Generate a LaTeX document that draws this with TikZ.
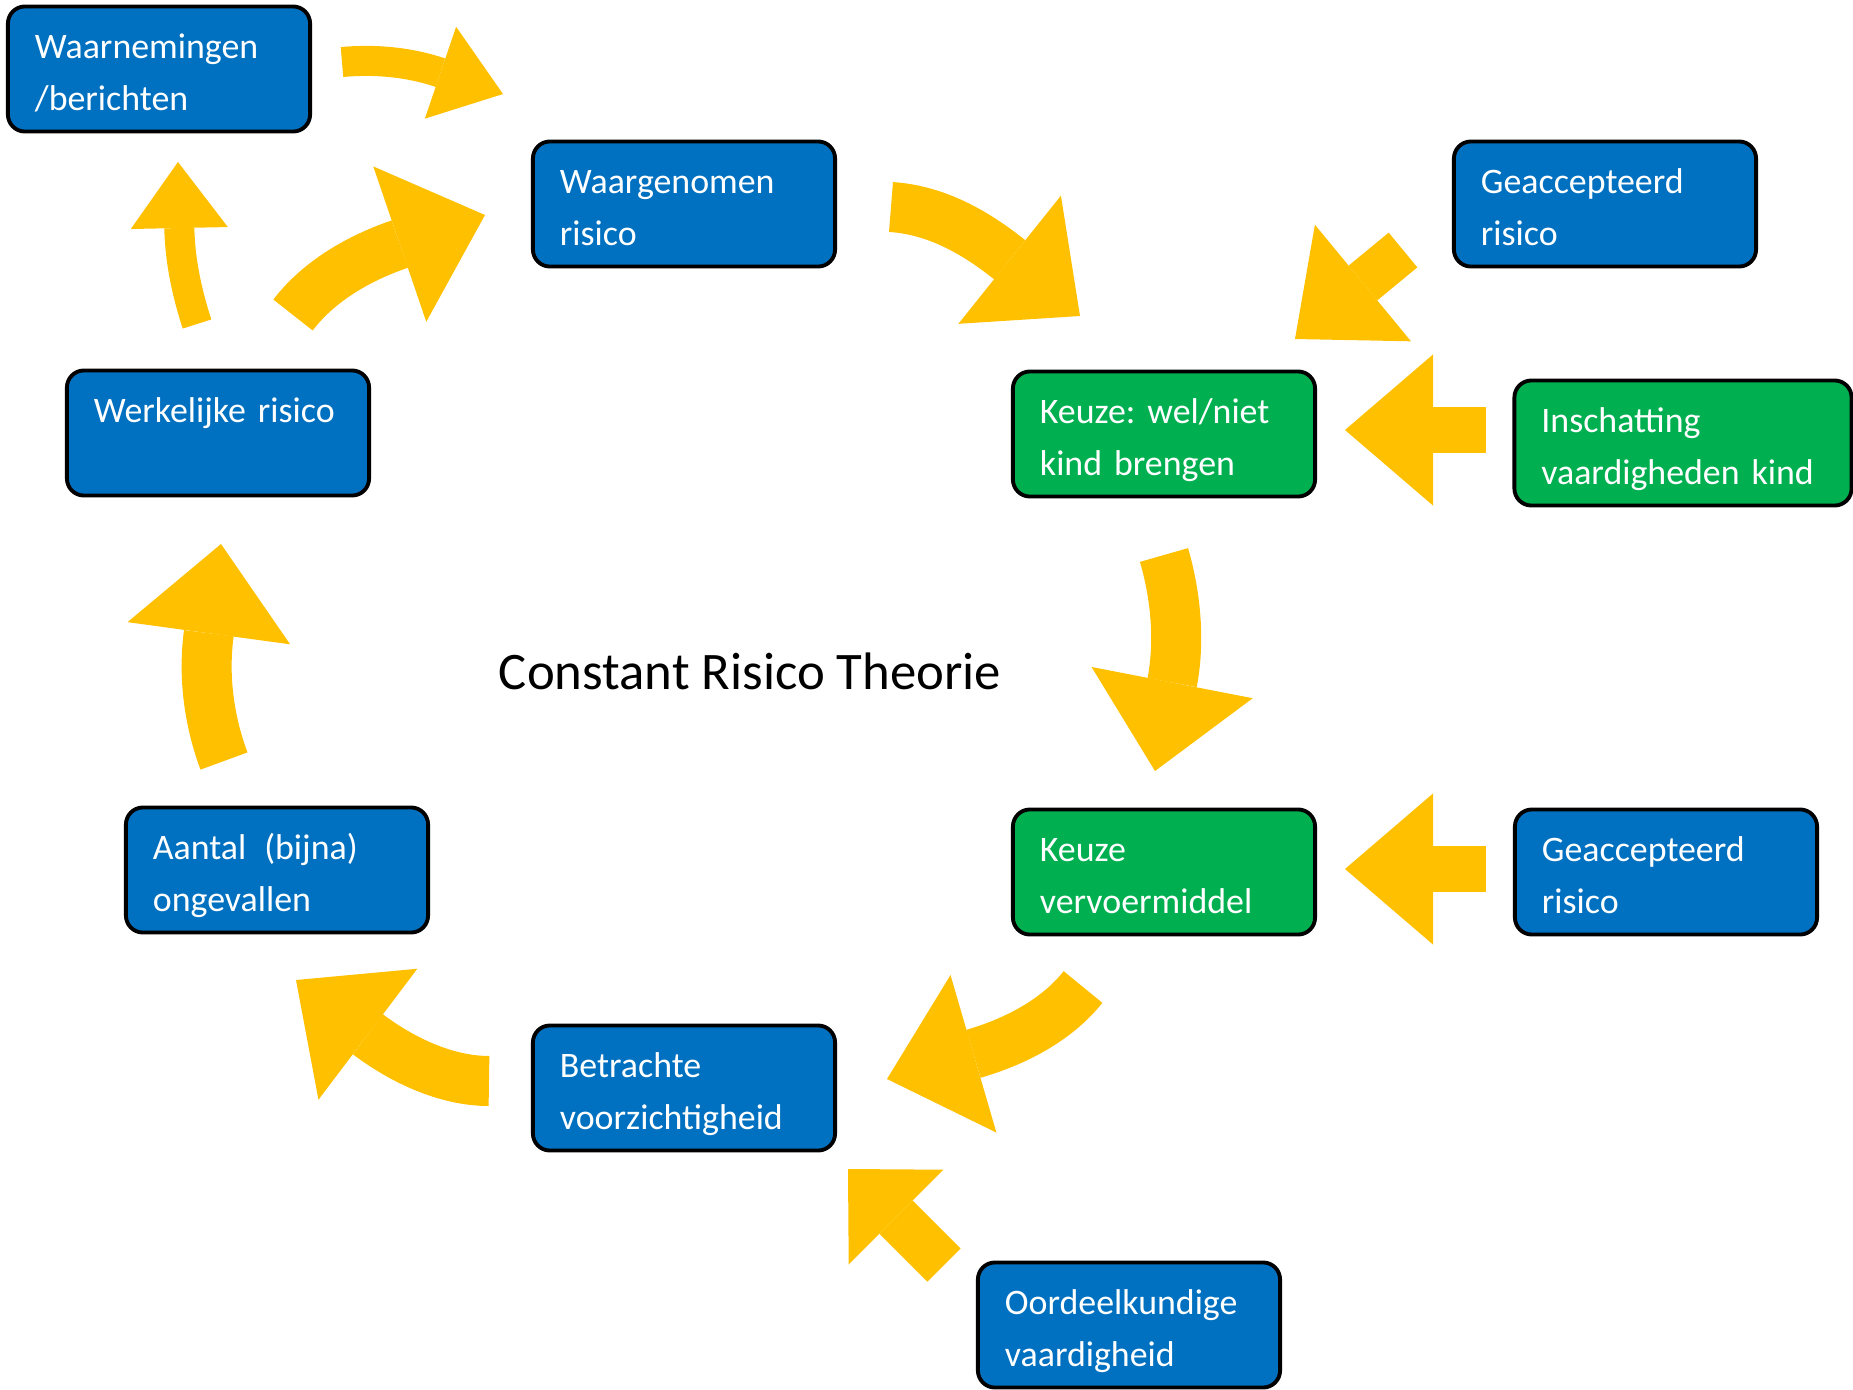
\documentclass[tikz,border=0pt]{standalone}
\usepackage{fontspec}
\setmainfont{Carlito}
\usepackage{xcolor}
\usepackage{tikz}
\usetikzlibrary{arrows.meta}
\definecolor{crtblue}{RGB}{0,112,192}
\definecolor{crtgreen}{RGB}{0,176,80}
\definecolor{crtyellow}{RGB}{255,192,0}
\tikzstyle{bbox} = [rectangle, rounded corners=0.17cm, minimum width=3.02cm, minimum height=1.25cm, text width=2.48cm, inner xsep=0.27cm, inner ysep=0pt, align=left, text height=8.2pt, text depth=14.4pt, draw=black, line width=1.1pt, fill=crtblue, text=white, font=\fontsize{10.2pt}{14.8pt}\selectfont\frenchspacing]
\tikzstyle{gbox} = [bbox, fill=crtgreen]
\tikzstyle{wide} = [minimum width=3.37cm, text width=2.83cm]
\tikzstyle{bigarrow} = [color=crtyellow, line width=0.5cm, -{Triangle[length=0.9cm, width=1.64cm, line width=0pt]}]
\tikzstyle{smallarrow} = [color=crtyellow, line width=0.3cm, -{Triangle[length=0.66cm, width=0.97cm, line width=0pt]}]
\tikzstyle{flatarrow} = [color=crtyellow, line width=0.45cm, -{Triangle[length=0.88cm, width=1.51cm, line width=0pt]}]
\tikzstyle{shortarrow} = [color=crtyellow, line width=0.47cm, -{Triangle[length=0.68cm, width=1.34cm, line width=0pt]}]

\begin{document}
\begin{tikzpicture}[x=0.01cm, y=-0.01cm]

\useasboundingbox (0,0) rectangle (1853,1390);

\node (waarn) [bbox] at (159,69) {Waarnemingen\\/berichten};
\node (waarg) [bbox] at (684,204) {Waargenomen\\risico};
\node (geacc1) [bbox] at (1605,204) {Geaccepteerd\\risico};
\node (werk) [bbox] at (218,433) {Werkelijke risico};
\node (kind) [gbox] at (1164,434) {Keuze: wel/niet\\kind brengen};
\node (insch) [gbox, wide] at (1683,443) {Inschatting\\vaardigheden kind};
\node (aantal) [bbox] at (277,870) {Aantal\ \,(bijna)\\ongevallen};
\node (vervoer) [gbox] at (1164,872) {Keuze\\vervoermiddel};
\node (geacc2) [bbox] at (1666,872) {Geaccepteerd\\risico};
\node (betr) [bbox] at (684,1088) {Betrachte\\voorzichtigheid};
\node (oordeel) [bbox] at (1129,1325) {Oordeelkundige\\vaardigheid};

\node (title) [font=\fontsize{15pt}{18pt}\selectfont] at (750,671) {Constant Risico Theorie};

% ends of the block arrows
\coordinate (waarn-out) at (342,62);
\coordinate (waarg-in1) at (503,94);
\coordinate (werk-out1) at (293,315);
\coordinate (waarg-in2) at (485,215);
\coordinate (werk-out2) at (197,324);
\coordinate (waarn-in) at (178,162);
\coordinate (waarg-out) at (891,207);
\coordinate (kind-in1) at (1080,316);
\coordinate (geacc1-out) at (1403,250);
\coordinate (kind-in2) at (1295,339);
\coordinate (insch-out) at (1486,430);
\coordinate (kind-in3) at (1345,430);
\coordinate (kind-out) at (1164,555);
\coordinate (vervoer-in1) at (1155,771);
\coordinate (geacc2-out) at (1486,869);
\coordinate (vervoer-in2) at (1345,869);
\coordinate (vervoer-out) at (1083,987);
\coordinate (betr-in1) at (887,1079);
\coordinate (oordeel-out) at (944,1265);
\coordinate (betr-in2) at (848,1169);
\coordinate (betr-out) at (489,1081);
\coordinate (aantal-in) at (296,980);
\coordinate (aantal-out) at (224,761);
\coordinate (werk-in) at (221,544);

\draw [smallarrow] (waarn-out) .. controls (375,59) and (409,62) .. (waarg-in1);
\draw [bigarrow] (werk-out1) .. controls (319,281) and (359,258) .. (waarg-in2);
\draw [smallarrow] (werk-out2) .. controls (187,293) and (180,261) .. (waarn-in);
\draw [bigarrow] (waarg-out) .. controls (936,210) and (975,232) .. (kind-in1);
\draw [flatarrow] (geacc1-out) -- (kind-in2);
\draw [flatarrow] (insch-out) -- (kind-in3);
\draw [bigarrow] (kind-out) .. controls (1176,596) and (1180,642) .. (vervoer-in1);
\draw [flatarrow] (geacc2-out) -- (vervoer-in2);
\draw [bigarrow] (vervoer-out) .. controls (1056,1021) and (1014,1042) .. (betr-in1);
\draw [shortarrow] (oordeel-out) -- (betr-in2);
\draw [bigarrow] (betr-out) .. controls (446,1081) and (402,1060) .. (aantal-in);
\draw [bigarrow] (aantal-out) .. controls (209,721) and (203,676) .. (werk-in);

\end{tikzpicture}
\end{document}
